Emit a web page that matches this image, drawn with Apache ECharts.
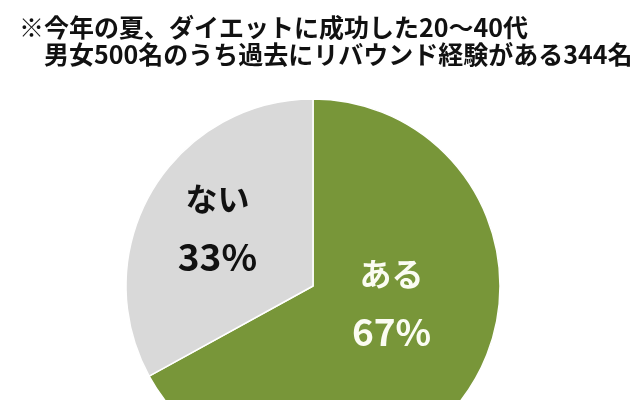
<!DOCTYPE html>
<html>
<head>
<meta charset="utf-8">
<script src="https://cdn.jsdelivr.net/npm/echarts@6/dist/echarts.min.js"></script>
<style>
html,body{margin:0;padding:0;background:#fff;}
#chart{width:640px;height:400px;}
</style>
</head>
<body>
<div id="chart"></div>
<script>
const titleLines = ['※今年の夏、ダイエットに成功した20～40代', '　男女500名のうち過去にリバウンド経験がある344名'];
const categories = ['ある', 'ない'];
const values = [67, 33];

const colors = ['#789639', '#D9D9D9'];
const labelColors = ['#FBFCF2', '#111111'];
const labelPads = [[0, 9, 64, 0], [0, 25, 18, 0]];

const chart = echarts.init(document.getElementById('chart'));
chart.setOption({
  backgroundColor: '#ffffff',
  animation: false,
  title: {
    text: titleLines.join('\n'),
    left: 14,
    top: 9,
    textStyle: {
      fontFamily: '"Noto Sans CJK JP", sans-serif',
      fontSize: 25,
      fontWeight: 'bold',
      color: '#111111',
      lineHeight: 27
    }
  },
  series: [{
    type: 'pie',
    center: [313, 286],
    radius: 187,
    startAngle: 90,
    clockwise: true,
    itemStyle: { borderColor: '#ffffff', borderWidth: 1.5 },
    label: {
      position: 'inside',
      formatter: '{n|{b}}\n{p|{c}%}',
      rich: {
        n: { fontFamily: '"Noto Sans CJK JP", sans-serif', fontSize: 32, fontWeight: 'bold', lineHeight: 58 },
        p: { fontFamily: '"Noto Sans CJK JP", sans-serif', fontSize: 37, fontWeight: 'bold', lineHeight: 58 }
      }
    },
    labelLine: { show: false },
    emphasis: { disabled: true },
    data: categories.map((name, i) => ({
      name: name,
      value: values[i],
      itemStyle: { color: colors[i] },
      label: {
        color: labelColors[i],
        padding: labelPads[i],
        rich: {
          n: { color: labelColors[i] },
          p: { color: labelColors[i] }
        }
      }
    }))
  }]
});
</script>
</body>
</html>
